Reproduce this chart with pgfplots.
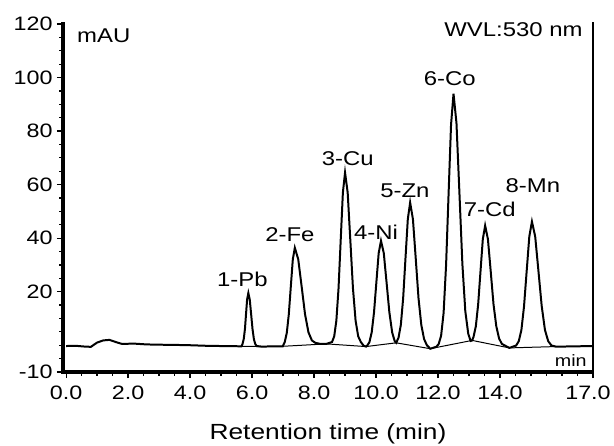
\documentclass[border=0pt]{standalone}
\usepackage{fontspec}
\setmainfont{Liberation Sans}[FakeStretch=1.2]
\usepackage{pgfplots}
\pgfplotsset{compat=1.18}

% chromatogram trace (retention time in min, signal in mAU)
\pgfplotstableread{
t     s
0.0   -0.3
0.3   -0.2
0.6   -0.5
0.8   -0.6
1.0    1.0
1.2    1.8
1.4    2.0
1.6    1.2
1.8    0.5
2.2    0.6
2.6    0.3
3.0    0.2
3.6    0.1
4.0    0.0
4.5   -0.2
5.0   -0.3
5.655 -0.4
5.69   0.4
5.73   2.2
5.77   6.0
5.805 11.6
5.84  17.1
5.88  19.5
5.925 17.1
5.97  11.6
6.015  6.0
6.06   2.2
6.105  0.4
6.15  -0.3
6.3   -0.5
6.99  -0.4
7.055  1.2
7.12   4.6
7.185 11.5
7.25  21.9
7.315 32.1
7.38  36.4
7.49  32.1
7.60  21.9
7.71  11.5
7.82   4.8
7.93   1.8
8.04   0.9
8.2    0.5
8.4    0.5
8.58   1.2
8.65   3.3
8.72   9.2
8.79  21.3
8.86  39.3
8.93  57.0
9.0   64.5
9.085 57.0
9.17  39.3
9.255 21.3
9.34   9.2
9.425  3.3
9.51   1.2
9.6   -0.2
9.68  -0.5
9.71  -0.2
9.785  1.1
9.86   4.8
9.935 12.3
10.01 23.4
10.085 34.4
10.16 39.0
10.25 34.4
10.34 23.4
10.43 12.3
10.52  4.8
10.6   1.6
10.65  0.9
10.725 2.8
10.80  7.6
10.875 17.6
10.95 32.5
11.025 47.1
11.10 53.3
11.19 47.1
11.28 32.5
11.37 17.6
11.46  7.6
11.55  2.3
11.64  0.0
11.75 -1.3
11.94 -0.6
12.02  0.4
12.10  3.6
12.18 12.1
12.26 30.0
12.34 56.4
12.42 82.4
12.50 94.0
12.595 83.0
12.69 57.0
12.785 30.5
12.88 12.7
12.975 4.3
13.05  1.6
13.10  1.8
13.145 3.1
13.22  7.1
13.295 15.3
13.37 27.6
13.445 39.6
13.52 44.7
13.61 39.6
13.70 27.6
13.79 15.3
13.88  7.1
13.97  2.5
14.06  0.5
14.3  -1.0
14.52 -0.1
14.605 1.5
14.69  5.7
14.775 14.6
14.86 27.7
14.945 40.6
15.03 46.2
15.135 40.6
15.24 27.7
15.345 14.6
15.45  5.7
15.555 1.5
15.66 -0.1
15.8  -0.5
16.0  -0.5
16.5  -0.4
17.0  -0.3
}\trace

% integration baseline between peak boundaries
\pgfplotstableread{
t     s
5.655 -0.4
6.3   -0.5
6.99  -0.4
8.4    0.5
9.68  -0.5
10.65  0.9
11.75 -1.3
13.1   1.8
14.3  -1.0
15.8  -0.5
}\base

\begin{document}
\begin{tikzpicture}
\path[use as bounding box] (0,0) rectangle (614bp,446bp);
\begin{axis}[
    at={(63bp,74bp)}, anchor=south west,
    scale only axis,
    width=530bp, height=350bp,
    xmin=-0.1, xmax=17, ymin=-10, ymax=120.75,
    axis x line=bottom, axis y line=left,
    axis line style={-},
    xtick={0,2,4,6,8,10,12,14,17},
    xticklabels={0.0,2.0,4.0,6.0,8.0,10.0,12.0,14.0,{\kern-10bp 17.0}},
    minor xtick={0,0.5,...,17},
    ytick={-10,20,40,60,80,100,120},
    minor ytick={-10,-5,...,120},
    tick align=outside,
    major tick length=6bp, minor tick length=3.5bp,
    every tick/.style={black, line width=1.2pt},
    /pgf/number format/assume math mode=true,
    tick label style={font=\fontsize{19.5}{21}\selectfont},
    xticklabel style={yshift=-4bp},
    yticklabel style={xshift=-1bp},
    xlabel={Retention time (min)},
    xlabel style={font=\fontsize{22}{24}\selectfont, yshift=-18bp},
    clip=false,
]
\addplot[black, line width=2pt] table[x=t, y=s] {\trace};
\addplot[black, line width=1pt] table[x=t, y=s] {\base};

% heavy frame on the left and bottom, thin on the right, open at the top
\fill[black] ([xshift=-2bp]rel axis cs:0,1) rectangle ([xshift=2bp,yshift=-2bp]rel axis cs:0,0);
\fill[black] ([xshift=-2bp,yshift=-2bp]rel axis cs:0,0) rectangle ([yshift=2bp]rel axis cs:1,0);
\fill[black] ([xshift=-0.8bp]rel axis cs:1,0) rectangle ([xshift=0.8bp]rel axis cs:1,1);

\begin{scope}[font=\fontsize{20}{22}\selectfont]
\node at (axis cs:5.69,24.7) {1-Pb};
\node at (axis cs:7.22,41.2) {2-Fe};
\node at (axis cs:9.09,69.6) {3-Cu};
\node at (axis cs:10.0,42.3) {4-Ni};
\node at (axis cs:10.93,57.6) {5-Zn};
\node at (axis cs:12.38,99.5) {6-Co};
\node at (axis cs:13.67,50.9) {7-Cd};
\node at (axis cs:15.06,59.5) {8-Mn};
\node[anchor=west, inner sep=0pt] at (axis cs:0.35,115.5) {mAU};
\node[anchor=east, inner sep=0pt] at (axis cs:16.67,117.9) {WVL:530 nm};
\end{scope}
\node[anchor=east, inner sep=0pt, font=\fontsize{16.5}{18}\selectfont] at (axis cs:16.8,-5.9) {min};
\end{axis}
\end{tikzpicture}
\end{document}
